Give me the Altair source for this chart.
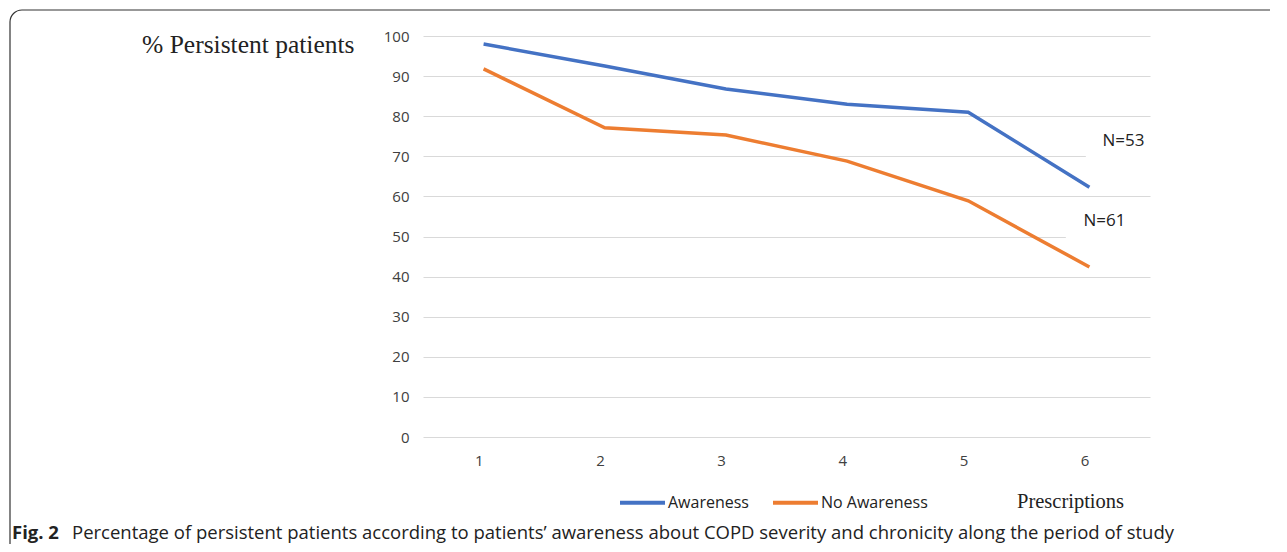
import altair as alt
import pandas as pd

prescriptions = ["1", "2", "3", "4", "5", "6"]
awareness = [98.0, 92.5, 86.8, 83.0, 81.0, 62.3]
no_awareness = [91.8, 77.1, 75.3, 68.8, 58.9, 42.4]
series_names = ["Awareness", "No Awareness"]
series_colors = ["#4472C4", "#ED7D31"]
n_labels = ["N=53", "N=61"]
n_label_y = [73.8, 53.9]

rows = []
for p, a, n in zip(prescriptions, awareness, no_awareness):
    rows.append({"Prescription": p, "value": a, "series": series_names[0]})
    rows.append({"Prescription": p, "value": n, "series": series_names[1]})
df = pd.DataFrame(rows)

lab53 = pd.DataFrame({"Prescription": ["6"], "value": [n_label_y[0]], "label": [n_labels[0]]})
lab61 = pd.DataFrame({"Prescription": ["6"], "value": [n_label_y[1]], "label": [n_labels[1]]})
box53 = pd.DataFrame({"Prescription": ["6"], "y1": [68.5], "y2": [71.5]})
box61 = pd.DataFrame({"Prescription": ["6"], "y1": [48.5], "y2": [51.5]})

xscale = alt.Scale(paddingInner=0, paddingOuter=0)
xenc = alt.X("Prescription:O", sort=prescriptions, scale=xscale,
             axis=alt.Axis(title="Prescriptions", labelAngle=0, domain=False, ticks=False,
                           labelPadding=23, labelFont="Open Sans", labelFontSize=15,
                           labelColor="#404040", grid=False,
                           titleFont="Liberation Serif", titleFontSize=20.5, titleFontWeight="normal",
                           titleColor="#222222", titleX=647, titleY=64, titleBaseline="middle",
                           titleAlign="center"))
xplain = alt.X("Prescription:O", sort=prescriptions, scale=xscale)

yscale = alt.Scale(domain=[0, 100], nice=False)
yaxis = alt.Axis(title="% Persistent patients", values=list(range(0, 101, 10)),
                 domain=False, ticks=False, labelPadding=14, labelFont="Open Sans",
                 labelFontSize=15, labelColor="#404040", gridColor="#d9d9d9", gridWidth=1.2,
                 titleAngle=0, titleAlign="right", titleBaseline="middle", titleX=-69, titleY=8,
                 titleFont="Liberation Serif", titleFontSize=25.5, titleFontWeight="normal",
                 titleColor="#222222")

lines = alt.Chart(df).mark_line(strokeWidth=3.5).encode(
    x=xenc,
    y=alt.Y("value:Q", scale=yscale, axis=yaxis),
    color=alt.Color("series:N", sort=series_names,
                    scale=alt.Scale(domain=series_names, range=series_colors),
                    legend=alt.Legend(title=None, orient="none", legendX=195, legendY=442,
                                      direction="horizontal", symbolType="stroke",
                                      symbolSize=2025, symbolStrokeWidth=4,
                                      labelFont="Open Sans", labelFontSize=16,
                                      labelColor="#222222", labelOffset=1, columnPadding=16)),
)

b53 = alt.Chart(box53).mark_rect(color="white", xOffset=57).encode(
    x=xplain, y=alt.Y("y1:Q", scale=yscale), y2="y2:Q")
b61 = alt.Chart(box61).mark_rect(color="white", xOffset=37, x2Offset=-6).encode(
    x=xplain, y=alt.Y("y1:Q", scale=yscale), y2="y2:Q")

t53 = alt.Chart(lab53).mark_text(font="Open Sans", fontSize=17, color="#222222", xOffset=34).encode(
    x=xplain, y=alt.Y("value:Q", scale=yscale), text="label:N")
t61 = alt.Chart(lab61).mark_text(font="Open Sans", fontSize=17, color="#222222", xOffset=15).encode(
    x=xplain, y=alt.Y("value:Q", scale=yscale), text="label:N")

frame_df = pd.DataFrame({"k": [0]})
frame = alt.Chart(frame_df).mark_rect(cornerRadius=12, fillOpacity=0, stroke="#333333",
                                     strokeWidth=1.2).encode(
    x=alt.value(-413), x2=alt.value(900), y=alt.value(-26), y2=alt.value(600))

cap_bold = alt.Chart(frame_df).mark_text(text="Fig. 2", font="Open Sans", fontSize=18.5,
                                        fontWeight="bold", align="left", baseline="alphabetic",
                                        color="#222222").encode(
    x=alt.value(-411), y=alt.value(503))
cap_rest = alt.Chart(frame_df).mark_text(
    text="Percentage of persistent patients according to patients\u2019 awareness about COPD severity and chronicity along the period of study",
    font="Open Sans", fontSize=18.5, align="left", baseline="alphabetic", color="#222222").encode(
    x=alt.value(-351), y=alt.value(503))

chart = alt.layer(frame, b53, b61, lines, t53, t61, cap_bold, cap_rest).properties(
    width=727, height=401,
    padding={"left": 415, "top": 28, "right": 120, "bottom": 107},
    autosize=alt.AutoSizeParams(type="none"),
).configure_view(stroke=None)

chart.save("out.html", embed_options={"renderer": "svg", "actions": False})
